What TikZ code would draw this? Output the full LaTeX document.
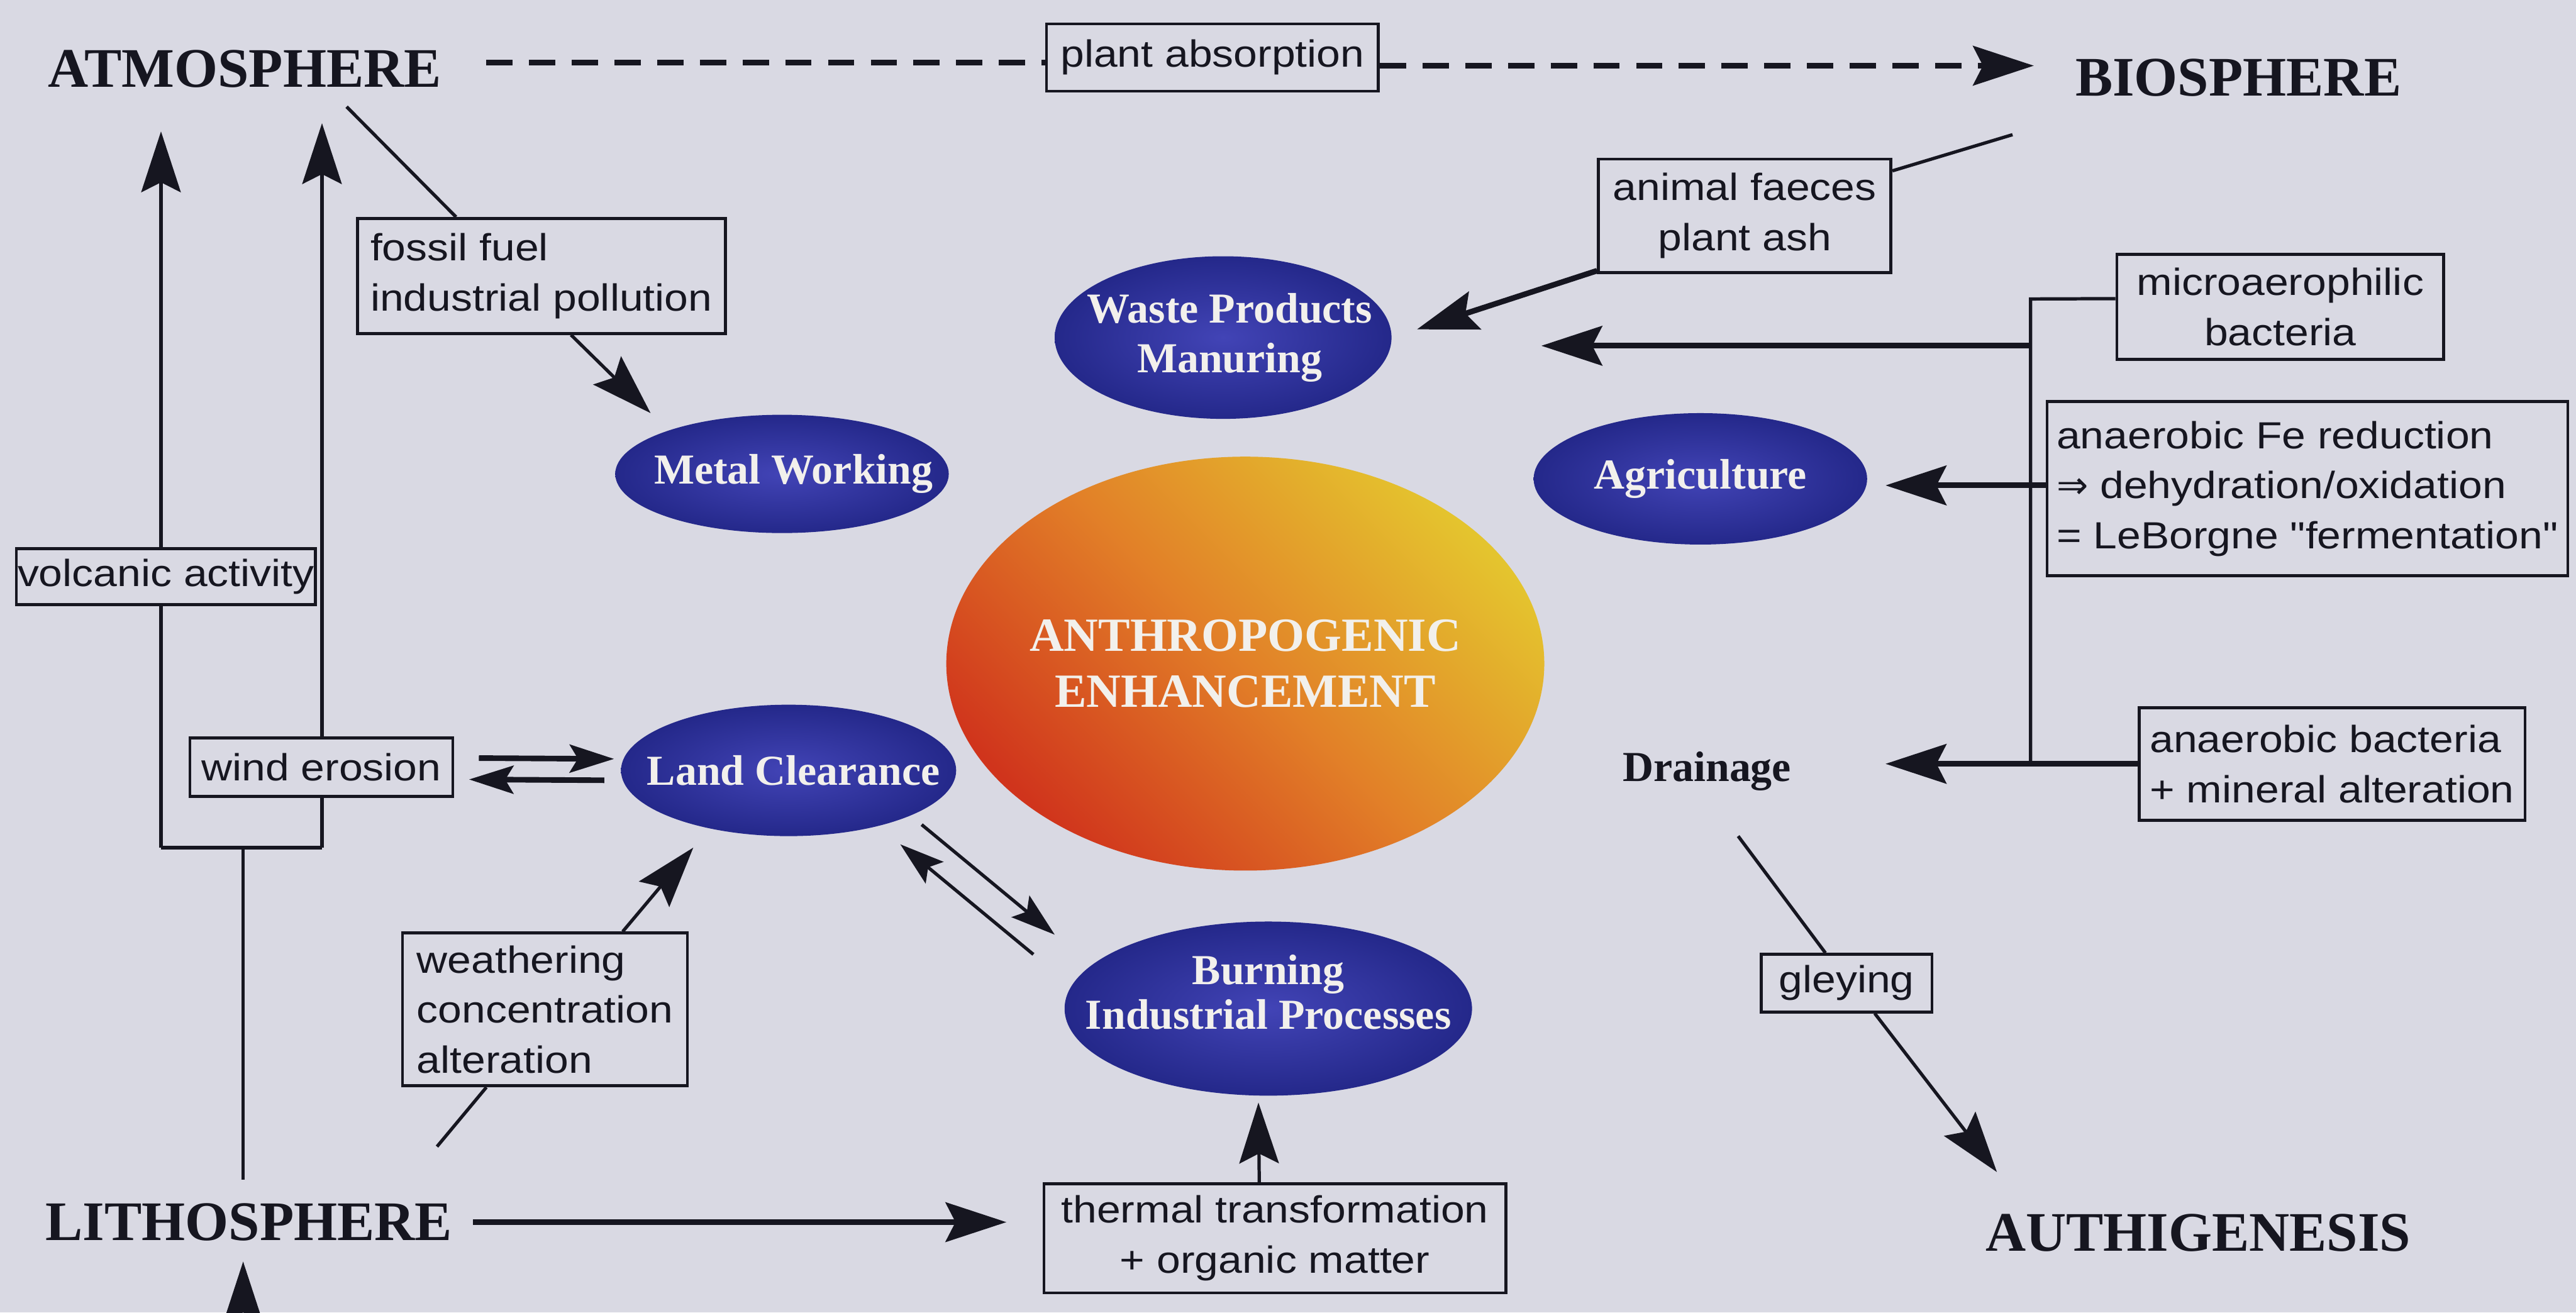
\documentclass[tikz,border=0pt]{standalone}
\usepackage{fontspec}
\setmainfont{Liberation Serif}
\newfontfamily\boxfont{Liberation Sans}[FakeStretch=1.13]
\newfontfamily\symfont{DejaVu Sans}
\usetikzlibrary{arrows.meta,shapes.geometric,calc}
\definecolor{bg}{RGB}{217,217,227}
\definecolor{ink}{RGB}{22,22,32}
\definecolor{bluein}{RGB}{66,68,182}
\definecolor{blueout}{RGB}{36,40,138}
\definecolor{ared}{RGB}{208,52,28}
\definecolor{aorange}{RGB}{226,128,40}
\definecolor{ayellow}{RGB}{228,196,46}
\definecolor{etextc}{RGB}{242,240,236}
\tikzset{
  head/.style={font=\fontsize{34}{40}\selectfont\bfseries, text=ink, inner sep=0pt, anchor=base},
  lbox/.style={draw=ink, line width=1.8pt, fill=bg, font=\boxfont\fontsize{23}{30.5}\selectfont, text=ink, inner sep=0pt},
  blob/.style={ellipse, inner sep=0pt, inner color=bluein, outer color=blueout},
  etext/.style={font=\fontsize{26}{30}\selectfont\bfseries, text=etextc, align=center, inner sep=0pt},
  ln/.style={draw=ink, line width=2pt},
  lnw/.style={draw=ink, line width=3.4pt},
  bigtip/.style={-{Stealth[length=37pt,width=24pt,inset=6pt]}},
  smalltip/.style={-{Stealth[length=27pt,width=17pt,inset=5pt]}},
}
\begin{document}
\begin{tikzpicture}[x=1pt,y=-1pt]
\useasboundingbox (0,0) rectangle (1568,799);
\fill[bg] (0,0) rectangle (1568,799);

% free ends
\coordinate (atmE) at (296,38);
\coordinate (bioW) at (1238,40);
\coordinate (atmF) at (211,65);
\coordinate (bioF) at (1225,82);
\coordinate (atmV1) at (98,80);
\coordinate (atmV2) at (196,75);
\coordinate (j1) at (98,516);
\coordinate (j2) at (196,516);
\coordinate (j0) at (148,516);
\coordinate (lithoN) at (148,718);
\coordinate (lithoS) at (148,768);
\coordinate (edgeS) at (148,799);
\coordinate (lithoE) at (288,744);
\coordinate (wfoot) at (266,698);
\coordinate (dfoot) at (1058,509);
\coordinate (authN) at (1215.5,713.5);
\coordinate (busT) at (1236,182);

% left risers (behind boxes)
\draw[ln, bigtip] (j1) -- (atmV1);
\draw[ln, bigtip] (j2) -- (atmV2);
\draw[ln] (j1) -- (j2);
\draw[ln] (j0) -- (lithoN);
\draw[ln, bigtip] (edgeS) -- (lithoS);

% headings
\node[head] (atm) at (149,53) {ATMOSPHERE};
\node[head] (bio) at (1362.5,58.5) {BIOSPHERE};
\node[head] (litho) at (151.5,755) {LITHOSPHERE};
\node[head] (auth) at (1338,761.5) {AUTHIGENESIS};

% blue ellipses
\node[blob, minimum width=205pt, minimum height=99pt] (waste) at (744.5,205.5) {};
\node[blob, minimum width=203pt, minimum height=72pt] (metal) at (476,288.5) {};
\node[blob, minimum width=203pt, minimum height=80pt] (agri) at (1035,291.5) {};
\node[blob, minimum width=204pt, minimum height=80pt] (land) at (480,469) {};
\node[blob, minimum width=248pt, minimum height=106pt] (burn) at (772,614) {};
\node[ellipse, inner sep=0pt, minimum width=364pt, minimum height=252pt,
      left color=ared, right color=ayellow, middle color=aorange, shading angle=135] (anthro) at (758,404) {};

\node[etext] at ([xshift=4pt]waste.center) {Waste Products\\Manuring};
\node[etext] at ([xshift=7pt]metal.center) {Metal Working};
\node[etext] at (agri) {Agriculture};
\node[etext] at ([xshift=3pt]land.center) {Land Clearance};
\node[etext, font=\fontsize{26}{27}\selectfont\bfseries] at ([yshift=10pt]burn.center) {Burning\\Industrial Processes};
\node[etext, font=\fontsize{29}{34}\selectfont\bfseries] at (anthro) {ANTHROPOGENIC\\ENHANCEMENT};
\node[font=\fontsize{26}{30}\selectfont\bfseries, text=ink, inner sep=0pt, anchor=base] (drain) at (1039,475.5) {Drainage};

% label boxes
\node[lbox, minimum width=202pt, minimum height=41pt] (plant) at (738,35) {plant absorption};
\node[lbox, minimum width=224pt, minimum height=70pt, align=left] (fossil) at (329.5,168) {fossil fuel\\industrial pollution};
\node[lbox, minimum width=178pt, minimum height=69pt, align=center] (animal) at (1062,131.4) {animal faeces\\plant ash};
\node[lbox, minimum width=199pt, minimum height=64pt, align=center] (micro) at (1388,186.8) {microaerophilic\\bacteria};
\node[lbox, minimum width=317pt, minimum height=106pt, align=left] (fe) at (1404.5,297.5) {anaerobic Fe reduction\\{\symfont ⇒} dehydration/oxidation\\= LeBorgne "fermentation"};
\node[lbox, minimum width=235pt, minimum height=68.5pt, align=left] (anb) at (1419.5,465) {anaerobic bacteria\\+ mineral alteration};
\node[lbox, minimum width=182pt, minimum height=34pt] (volc) at (101,351) {volcanic activity};
\node[lbox, minimum width=160pt, minimum height=35.5pt] (wind) at (195.6,467) {wind erosion};
\node[lbox, minimum width=173.5pt, minimum height=93pt, align=left] (weath) at (331.7,614.5) {weathering\\concentration\\alteration};
\node[lbox, minimum width=281pt, minimum height=66.5pt, align=center] (thermal) at (776,753.8) {thermal transformation\\+ organic matter};
\node[lbox, minimum width=104pt, minimum height=35pt] (gley) at (1124,598.5) {gleying};

% connectors
\draw[lnw, dash pattern=on 16pt off 10pt] (atmE) -- (plant.west |- atmE);
\draw[lnw, dash pattern=on 16pt off 10pt, bigtip] (plant.east |- bioW) -- (bioW);
\draw[ln] (atmF) -- ([xshift=61pt]fossil.north west);
\draw[ln, bigtip] ([xshift=131pt]fossil.south west) -- ([xshift=-80pt,yshift=37pt]metal.center);
\draw[lnw, smalltip] ([xshift=15pt,yshift=5.5pt]wind.east) -- ([xshift=-4pt,yshift=7pt]land.west);
\draw[lnw, smalltip] ([xshift=-10pt,yshift=-6pt]land.west) -- ([xshift=9pt,yshift=-7.5pt]wind.east);
\draw[ln, smalltip] ([xshift=81pt,yshift=-33pt]land.center) -- ([xshift=-130pt,yshift=45pt]burn.center);
\draw[ln, smalltip] ([xshift=-143pt,yshift=33pt]burn.center) -- ([xshift=68pt,yshift=-45pt]land.center);
\draw[ln] (wfoot) -- ([xshift=52pt]weath.south west);
\draw[ln, bigtip] ([xshift=135pt]weath.north west) -- ([xshift=-58pt,yshift=-47pt]land.center);
\draw[lnw, bigtip, shorten >=22pt] (lithoE) -- (lithoE -| thermal.west);
\draw[ln, bigtip] ([xshift=-9.5pt]thermal.north) -- ([xshift=-6pt,yshift=-4pt]burn.south);
\draw[ln] (bioF) -- ([yshift=-8pt]animal.north east);
\draw[lnw, bigtip] ([yshift=2pt]animal.south west) -- ([xshift=118pt,yshift=5pt]waste.center);
\draw[ln] ([yshift=5pt]micro.west) -- (busT) -- (busT |- anb.west);
\draw[lnw, bigtip] ([yshift=-5pt]waste.east -| busT) -- ([xshift=91pt,yshift=-5pt]waste.east);
\draw[lnw, bigtip, shorten >=11pt] ([yshift=2pt]fe.west) -- ([yshift=2pt]fe.west -| agri.east);
\draw[lnw, bigtip, shorten >=11pt] (anb.west) -- (anb.west -| agri.east);
\draw[ln] (dfoot) -- ([xshift=40pt]gley.north west);
\draw[ln, bigtip] ([xshift=70pt]gley.south west) -- (authN);
\end{tikzpicture}
\end{document}
